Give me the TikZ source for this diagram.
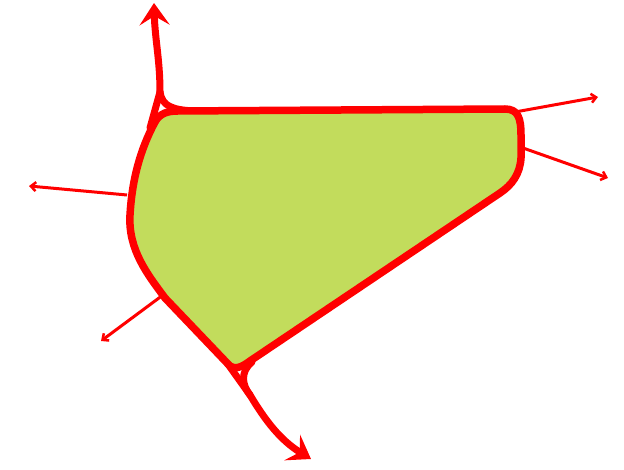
\documentclass[tikz,border=0pt]{standalone}
\usetikzlibrary{arrows.meta}
\definecolor{lime}{RGB}{194,220,92}
\definecolor{rd}{RGB}{255,0,0}
\tikzset{
  outline/.style={draw=rd, line width=7.5pt, line join=round, fill=lime},
  thickarr/.style={draw=rd, line width=7pt, line cap=butt, -{Stealth[length=22pt,width=30pt,inset=9pt]}},
  thickbr/.style={draw=rd, line width=7pt, line cap=round},
  thinarr/.style={draw=rd, line width=3pt, -{Straight Barb[length=5pt,width=9pt,line width=2.5pt]}}
}
\begin{document}
\begin{tikzpicture}[x=1pt,y=-1pt]
\useasboundingbox (0,0) rectangle (624,470);
% top thick arrow with fillet junction
\coordinate (tj) at (160,92);
\draw[thickbr] (tj) -- (150,128);
\draw[thickbr] (tj) .. controls (162,106) and (172,110) .. (195,111);
\draw[thickarr] (tj) .. controls (160,60) and (155,40) .. (154,3);
% bottom thick arrow with fillet junction
\coordinate (bj) at (250,395);
\draw[thickbr] (225,360) -- (bj);
\draw[thickbr] (252,362) .. controls (240,372) and (242,385) .. (bj);
\draw[thickarr] (bj) .. controls (265,420) and (280,440) .. (311,459);
% main shape
\draw[outline] (178,111) -- (505,109) .. controls (518,109) and (521,118) .. (521,135)
  -- (521,158) .. controls (520,174) and (512,185) .. (500,193)
  -- (250,361) .. controls (242,367) and (234,371) .. (228,364)
  -- (165,298) .. controls (148,275) and (128,250) .. (130,215)
  .. controls (132,180) and (140,150) .. (155,122)
  .. controls (160,113) and (168,111) .. (178,111) -- cycle;
% thin arrows
\coordinate (r1) at (515,112); \coordinate (r1e) at (598,97);
\coordinate (r2) at (523,148); \coordinate (r2e) at (608,178);
\coordinate (l1) at (127,195); \coordinate (l1e) at (29,186);
\coordinate (l2) at (163,295); \coordinate (l2e) at (101,341);
\draw[thinarr] (r1) -- (r1e);
\draw[thinarr] (r2) -- (r2e);
\draw[thinarr] (l1) -- (l1e);
\draw[thinarr] (l2) -- (l2e);
\end{tikzpicture}
\end{document}
